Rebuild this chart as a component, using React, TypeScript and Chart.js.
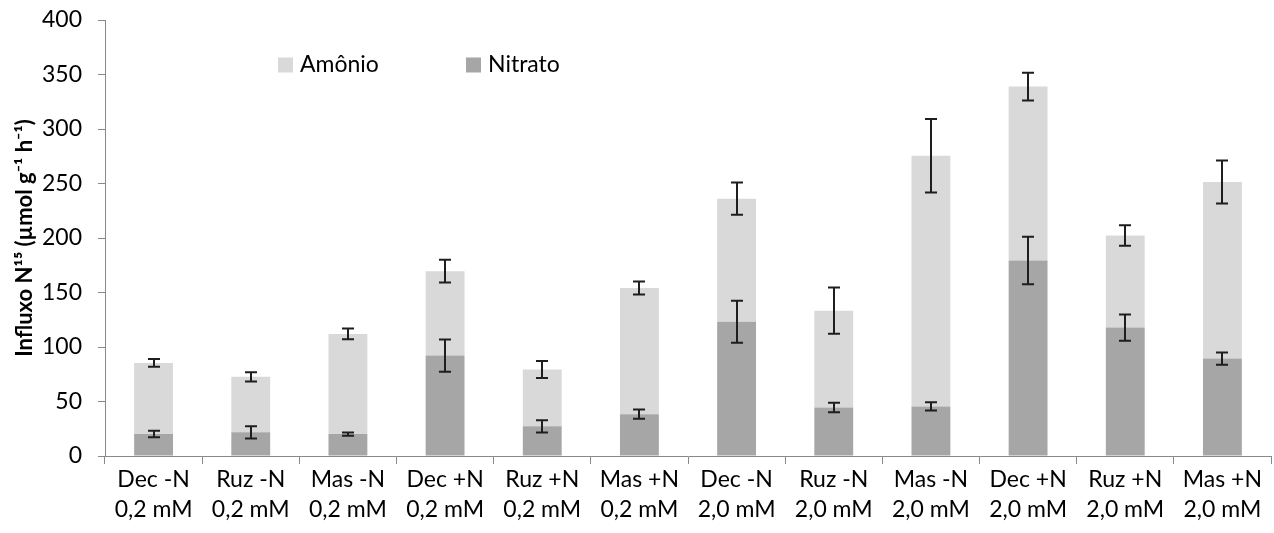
import React, { useEffect, useRef } from "react";
import { Chart, registerables } from "chart.js";

Chart.register(...registerables);

const categories: string[][] = [
  ["Dec -N", "0,2 mM"],
  ["Ruz -N", "0,2 mM"],
  ["Mas -N", "0,2 mM"],
  ["Dec +N", "0,2 mM"],
  ["Ruz +N", "0,2 mM"],
  ["Mas +N", "0,2 mM"],
  ["Dec -N", "2,0 mM"],
  ["Ruz -N", "2,0 mM"],
  ["Mas -N", "2,0 mM"],
  ["Dec +N", "2,0 mM"],
  ["Ruz +N", "2,0 mM"],
  ["Mas +N", "2,0 mM"],
];

const nitrato: number[] = [20.1, 21.7, 20.1, 92.1, 27.2, 38.4, 123.2, 44.5, 45.5, 179.4, 117.8, 89.4];
const nitratoErr: number[] = [3, 5.6, 1.5, 14.8, 5.6, 4.3, 19.2, 4.4, 3.7, 21.8, 12.1, 5.6];
const amonio: number[] = [65.3, 50.9, 91.9, 77.5, 52.1, 115.7, 112.9, 88.8, 230, 159.5, 84.5, 162];
const amonioErr: number[] = [3.5, 4.3, 5, 10.5, 7.8, 6, 14.8, 21.2, 33.7, 12.8, 9.3, 19.8];

const yTicks: number[] = [0, 50, 100, 150, 200, 250, 300, 350, 400];

const FONT = "Lato, 'Open Sans', sans-serif";
const AXIS = "#898989";
const C_NIT = "#a6a6a6";
const C_AMO = "#d9d9d9";

const errorBarPlugin = {
  id: "errorBars",
  afterDatasetsDraw(chart: any) {
    const ctx = chart.ctx;
    const y = chart.scales.y;
    ctx.save();
    ctx.strokeStyle = "#1e1e1e";
    ctx.lineWidth = 2;
    chart.data.datasets.forEach((ds: any, di: number) => {
      const meta = chart.getDatasetMeta(di);
      meta.data.forEach((bar: any, i: number) => {
        const base = di === 0 ? 0 : nitrato[i];
        const top = base + ds.data[i];
        const err = ds.errors[i];
        const x = Math.round(bar.x);
        const yHi = y.getPixelForValue(top + err);
        const yLo = y.getPixelForValue(top - err);
        const cap = 6;
        ctx.beginPath();
        ctx.moveTo(x, yHi);
        ctx.lineTo(x, yLo);
        ctx.moveTo(x - cap, yHi);
        ctx.lineTo(x + cap, yHi);
        ctx.moveTo(x - cap, yLo);
        ctx.lineTo(x + cap, yLo);
        ctx.stroke();
      });
    });
    ctx.restore();
  },
};

const legendPlugin = {
  id: "customLegend",
  afterDraw(chart: any) {
    const ctx = chart.ctx;
    const items = [
      { label: "Amônio", color: C_AMO, x: 278 },
      { label: "Nitrato", color: C_NIT, x: 466 },
    ];
    const cy = 65;
    ctx.save();
    ctx.font = `23px ${FONT}`;
    ctx.textBaseline = "middle";
    ctx.textAlign = "left";
    items.forEach((it) => {
      ctx.fillStyle = it.color;
      ctx.fillRect(it.x, cy - 7.5, 15, 15);
      ctx.fillStyle = "#000";
      ctx.fillText(it.label, it.x + 22, cy);
    });
    ctx.restore();
  },
};

export default function App() {
  const ref = useRef<HTMLCanvasElement>(null);

  useEffect(() => {
    if (!ref.current) return;
    const chart = new Chart(ref.current, {
      type: "bar",
      data: {
        labels: categories,
        datasets: [
          {
            label: "Nitrato",
            data: nitrato,
            backgroundColor: C_NIT,
            errors: nitratoErr,
            barPercentage: 0.4,
            categoryPercentage: 1,
          } as any,
          {
            label: "Amônio",
            data: amonio,
            backgroundColor: C_AMO,
            errors: amonioErr,
            barPercentage: 0.4,
            categoryPercentage: 1,
          } as any,
        ],
      },
      options: {
        animation: false,
        responsive: true,
        maintainAspectRatio: false,
        layout: { padding: { top: 20, right: 3, left: 0, bottom: 0 } },
        plugins: {
          legend: { display: false },
          tooltip: { enabled: false },
        },
        scales: {
          x: {
            stacked: true,
            offset: true,
            grid: {
              display: true,
              offset: true,
              drawOnChartArea: false,
              drawTicks: true,
              tickLength: 8,
              color: AXIS,
              lineWidth: 1,
            },
            border: { display: true, color: AXIS, width: 1 },
            ticks: {
              color: "#000",
              font: { family: FONT, size: 23, lineHeight: 1.3 },
              padding: 1,
              maxRotation: 0,
              autoSkip: false,
            },
            afterFit(scale: any) {
              scale.height = 77;
            },
          },
          y: {
            stacked: true,
            min: 0,
            max: 400,
            afterBuildTicks(scale: any) {
              scale.ticks = yTicks.map((v) => ({ value: v }));
            },
            grid: {
              display: true,
              drawOnChartArea: false,
              drawTicks: true,
              tickLength: 7,
              color: AXIS,
            },
            border: { display: true, color: AXIS, width: 1 },
            ticks: {
              color: "#000",
              font: { family: FONT, size: 23 },
              padding: 16,
            },
            title: {
              display: true,
              text: "Influxo N¹⁵ (µmol g⁻¹ h⁻¹)",
              color: "#000",
              font: { family: FONT, size: 22, weight: "bold" },
              padding: { top: 12, bottom: 0 },
            },
            afterFit(scale: any) {
              scale.width = 105;
              scale.paddingTop = 0;
              scale.paddingBottom = 0;
            },
          },
        },
      } as any,
      plugins: [errorBarPlugin, legendPlugin],
    });
    return () => chart.destroy();
  }, []);

  return (
    <div style={{ position: "absolute", left: 0, top: 0, width: 1274, height: 533 }}>
      <canvas ref={ref} />
    </div>
  );
}
